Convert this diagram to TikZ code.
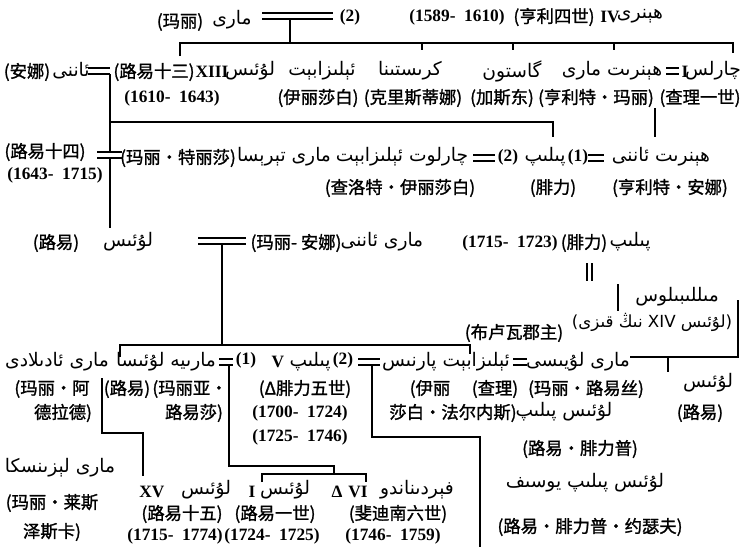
\documentclass[tikz,border=0pt]{standalone}
\usepackage{fontspec}
\setmainfont{Liberation Serif}
\newfontfamily\zhf{Noto Sans CJK SC}[AutoFakeBold=1.3]
\newfontfamily\ugf[Script=Arabic]{DejaVu Sans}
\TeXXeTstate=1
\newcommand\marr[4]{\draw[mr] (#1,#3) -- (#2,#3) (#1,#4) -- (#2,#4);}
\begin{document}
\begin{tikzpicture}[x=0.75pt,y=-0.75pt,
  every node/.style={inner sep=0pt,anchor=center},
  zt/.style={font=\zhf\bfseries\fontsize{13}{15}\selectfont},
  ut/.style={font=\ugf\fontsize{14}{16}\selectfont},
  us/.style={font=\ugf\fontsize{12.5}{15}\selectfont},
  nt/.style={font=\bfseries\fontsize{13}{15}\selectfont},
  ln/.style={line width=1.9pt},
  mr/.style={line width=1.5pt}]
\useasboundingbox[fill=white] (0,0) rectangle (742,547);
% ---------- row 0
\node[zt] (r0a) at (180,22) {(玛丽)};
\node[ut] (r0b) at (232,20) {\beginR مارى\endR};
\marr{262}{333}{13}{19}
\node[nt] (r0c) at (350,17) {(2)};
\node[nt] (r0d) at (457,17) {(1589-~~1610)};
\node[zt] (r0e) at (554,17) {(亨利四世)};
\node[nt] (r0f) at (610,17) {IV};
\node[ut] (r0g) at (640,16) {\beginR ھېنرى\endR};
\coordinate (m0) at (290,19);
\coordinate (h0) at (290,43);
\draw[ln] (m0) -- (h0);
\draw[ln] (180,56) -- (180,43) -- (733,43) -- (733,53);
\draw[ln] (422,43) -- (422,50) (513,43) -- (513,50) (614,43) -- (614,50);
% ---------- row 1
\node[zt] (r1a) at (27,72) {(安娜)};
\node[ut] (r1b) at (71,71) {\beginR ئاننى\endR};
\marr{88}{110}{68}{74}
\node[zt] (r1c) at (154,72) {(路易十三)};
\node[nt] (r1d) at (212,72) {XIII};
\node[ut] (r1e) at (250,71) {\beginR لۇئىس\endR};
\node[ut] (r1f) at (322,71) {\beginR ئېلىزابېت\endR};
\node[ut] (r1g) at (410,71) {\beginR كرىستىنا\endR};
\node[ut] (r1h) at (512,71) {\beginR گاستون\endR};
\node[ut] (r1i) at (612,71) {\beginR ھېنرىت مارى\endR};
\marr{666}{679}{68}{74}
\node[nt] (r1j) at (685,72) {I};
\node[ut] (r1k) at (713,71) {\beginR چارلس\endR};
\node[nt] (c1a) at (172,98) {(1610-~~1643)};
\node[zt] (c1b) at (318,98) {(伊丽莎白)};
\node[zt] (c1c) at (413,98) {(克里斯蒂娜)};
\node[zt] (c1d) at (502,98) {(加斯东)};
\node[zt] (c1e) at (596,98) {(亨利特·玛丽)};
\node[zt] (c1f) at (700,98) {(查理一世)};
\draw[ln] (110,74) -- (110,152);
\draw[ln] (110,122) -- (553,122) -- (553,137);
\draw[ln] (655,108) -- (655,137);
% ---------- row 2
\node[zt] (r2a) at (45,152) {(路易十四)};
\node[nt] (r2b) at (55,175) {(1643-~~1715)};
\marr{97}{122}{152}{158}
\node[zt] (r2c) at (178,158) {(玛丽·特丽莎)};
\node[ut] (r2d) at (284,157) {\beginR مارى تېرېسا\endR};
\node[ut] (r2e) at (402,157) {\beginR چارلوت ئېلىزابېت\endR};
\marr{473}{495}{155}{161}
\node[nt] (r2f) at (508,157) {(2)};
\node[ut] (r2g) at (545,157) {\beginR پىلىپ\endR};
\node[nt] (r2h) at (578,157) {(1)};
\marr{588}{604}{155}{161}
\node[ut] (r2i) at (661,157) {\beginR ھېنرىت ئاننى\endR};
\node[zt] (c2a) at (400,188) {(查洛特·伊丽莎白)};
\node[zt] (c2b) at (553,188) {(腓力)};
\node[zt] (c2c) at (670,188) {(亨利特·安娜)};
\draw[ln] (110,158) -- (110,228);
% ---------- row 3
\node[zt] (r3a) at (56,243) {(路易)};
\node[ut] (r3b) at (128,242) {\beginR لۇئىس\endR};
\marr{198}{246}{238}{244}
\node[zt] (r3c) at (296,243) {(玛丽- 安娜)};
\node[ut] (r3d) at (382,242) {\beginR مارى ئاننى\endR};
\node[nt] (r3e) at (510,243) {(1715-~~1723)};
\node[zt] (r3f) at (584,243) {(腓力)};
\node[ut] (r3g) at (630,242) {\beginR پىلىپ\endR};
\draw[mr] (587,263) -- (587,281) (592,263) -- (592,281);
\node[ut] (r3h) at (677,297) {\beginR مىللىبىلوس\endR};
\node[us] (r3i) at (652,322) {\beginR (لۇئىس \beginL XIV\endL{} نىڭ قىزى)\endR};
\node[zt] (r3j) at (514,333) {(布卢瓦郡主)};
\draw[ln] (618,284) -- (618,311);
\draw[ln] (738,300) -- (738,357) -- (630,357);
\draw[ln] (668,357) -- (668,372);
\draw[ln] (222,244) -- (222,345);
\draw[ln] (120,357) -- (120,345) -- (470,345) -- (470,354);
% ---------- row 4
\node[ut] (r4a) at (57,362) {\beginR مارى ئادىلادى\endR};
\node[ut] (r4b) at (166,362) {\beginR مارىيە لۇئىسا\endR};
\marr{219}{233}{359}{365}
\node[nt] (r4c) at (246,360) {(1)};
\node[nt] (r4d) at (278,362) {V};
\node[ut] (r4e) at (310,362) {\beginR پىلىپ\endR};
\node[nt] (r4f) at (343,360) {(2)};
\marr{358}{380}{359}{365}
\node[ut] (r4g) at (446,362) {\beginR ئېلىزابېت پارنىس\endR};
\marr{513}{527}{359}{365}
\node[ut] (r4h) at (578,362) {\beginR مارى لۇيىسى\endR};
\node[ut] (r4i) at (708,383) {\beginR لۇئىس\endR};
\node[zt] (c4a) at (52,389) {(玛丽·阿};
\node[zt] (c4b) at (127,389) {(路易)};
\node[zt] (c4c) at (190,389) {(玛丽亚·};
\node[zt] (c4d) at (305,389) {(Δ腓力五世)};
\node[zt] (c4e) at (430,389) {(伊丽};
\node[zt] (c4f) at (495,389) {(查理)};
\node[zt] (c4g) at (586,389) {(玛丽·路易丝)};
\node[zt] (d4a) at (63,413) {德拉德)};
\node[zt] (d4b) at (194,413) {路易莎)};
\node[nt] (d4c) at (300,413) {(1700-~~1724)};
\node[zt] (d4d) at (453,413) {莎白·法尔内斯)};
\node[ut] (d4e) at (564,412) {\beginR لۇئىس پىلىپ\endR};
\node[zt] (d4f) at (700,413) {(路易)};
\node[nt] (e4a) at (300,437) {(1725-~~1746)};
\node[zt] (e4b) at (580,449) {(路易·腓力普)};
\node[ut] (e4c) at (585,483) {\beginR لۇئىس پىلىپ يوسىف\endR};
\node[zt] (e4d) at (590,527) {(路易·腓力普·约瑟夫)};
\draw[ln] (102,378) -- (102,433) -- (143,433) -- (143,476);
\draw[ln] (229,365) -- (229,466) -- (334,466) -- (334,474);
\draw[ln] (262,482) -- (262,474) -- (366,474) -- (366,482);
\draw[ln] (372,365) -- (372,437) -- (480,437) -- (480,547);
% ---------- bottom
\node[ut] (b1) at (60,468) {\beginR مارى لېزىنسكا\endR};
\node[zt] (b2) at (52,503) {(玛丽·莱斯};
\node[zt] (b3) at (52,532) {泽斯卡)};
\node[nt] (b4) at (152,492) {XV};
\node[ut] (b5) at (206,490) {\beginR لۇئىس\endR};
\node[zt] (b6) at (182,514) {(路易十五)};
\node[nt] (b7) at (175,536) {(1715-~~1774)};
\node[nt] (b8) at (252,492) {I};
\node[ut] (b9) at (285,490) {\beginR لۇئىس\endR};
\node[zt] (b10) at (275,514) {(路易一世)};
\node[nt] (b11) at (272,536) {(1724-~~1725)};
\node[nt] (b12) at (337,492) {Δ};
\node[nt] (b13) at (358,492) {VI};
\node[ut] (b14) at (417,490) {\beginR فېردىناندو\endR};
\node[zt] (b15) at (398,514) {(斐迪南六世)};
\node[nt] (b16) at (393,536) {(1746-~~1759)};
\end{tikzpicture}
\end{document}
